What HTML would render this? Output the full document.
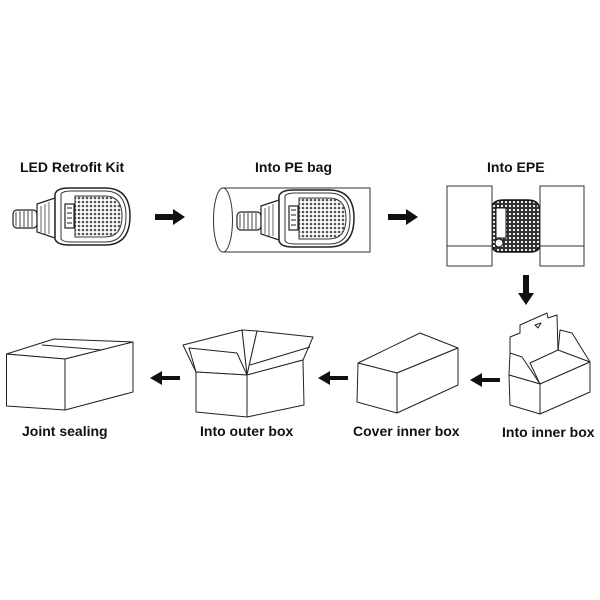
<!DOCTYPE html>
<html><head><meta charset="utf-8"><style>
html,body{margin:0;padding:0;background:#fff;}
svg{display:block;}
text{font-family:"Liberation Sans",sans-serif;font-weight:bold;font-size:14px;fill:#111;}
</style></head><body>
<svg width="600" height="600" viewBox="0 0 600 600" xmlns="http://www.w3.org/2000/svg">
<defs>
<pattern id="dots" width="4" height="4" patternUnits="userSpaceOnUse">
<rect width="4" height="4" fill="#fff"/><circle cx="2" cy="2" r="1.3" fill="#555"/>
</pattern>
<pattern id="dots2" width="4" height="4" patternUnits="userSpaceOnUse">
<rect width="4" height="4" fill="#333"/><rect x="1" y="1" width="2" height="2" fill="#eee"/>
</pattern>
<g id="lamp">
<rect x="0" y="22" width="24" height="18" rx="4" fill="#fff" stroke="#222" stroke-width="1.2"/>
<path d="M3 24v14M7 23v16M11 23v16M15 23v16M19 23v16" stroke="#444" stroke-width="1"/>
<path d="M24 16 L42 10 L42 50 L24 44 Z" fill="#fff" stroke="#222" stroke-width="1.2"/>
<path d="M28 18v26M32 16v30M36 14v32" stroke="#666" stroke-width="1"/>
<path d="M42 6 Q44 0 56 0 L92 0 Q117 0 117 28 Q117 57 92 57 L56 57 Q44 57 42 51 Z" fill="#fff" stroke="#222" stroke-width="1.5"/>
<path d="M48 6 Q50 3 58 3 L92 3 Q113 3 113 28 Q113 54 92 54 L58 54 Q50 54 48 51 Z" fill="none" stroke="#333" stroke-width="1"/>
<path d="M62 8 L92 8 Q109 8 109 28 Q109 49 92 49 L62 49 Z" fill="url(#dots)" stroke="#333"/>
<rect x="52" y="16" width="9" height="24" fill="#fff" stroke="#222" stroke-width="1.2"/>
<path d="M54 20h5M54 25h5M54 30h5M54 35h5" stroke="#222"/>
</g>
</defs>

<!-- labels -->
<text x="20" y="172">LED Retrofit Kit</text>
<text x="255" y="172">Into PE bag</text>
<text x="487" y="172">Into EPE</text>
<text x="22" y="436">Joint sealing</text>
<text x="200" y="436">Into outer box</text>
<text x="353" y="436">Cover inner box</text>
<text x="502" y="437">Into inner box</text>

<!-- lamp 1 -->
<use href="#lamp" x="13" y="188"/>

<!-- arrows -->
<g fill="#111">
<path d="M155 214h18v-5l12 8-12 8v-5h-18z"/>
<path d="M388 214h18v-5l12 8-12 8v-5h-18z"/>
<path d="M523 275h6v18h5l-8 12-8-12h5z"/>
<path d="M180 376h-18v-5l-12 7 12 7v-5h18z"/>
<path d="M348 376h-18v-5l-12 7 12 7v-5h18z"/>
<path d="M500 378h-18v-5l-12 7 12 7v-5h18z"/>
</g>

<!-- PE bag -->
<use href="#lamp" x="237" y="190"/>
<g fill="none" stroke="#333" stroke-width="1">
<path d="M223 188H370V252H223"/>
<ellipse cx="223" cy="220" rx="9.5" ry="32" fill="none"/>
</g>

<!-- EPE -->
<g>
<path d="M492 206 Q494 200 504 200 L528 200 Q540 200 540 212 L540 244 Q540 252 530 252 L500 252 Q492 252 492 244 Z" fill="url(#dots2)" stroke="#111" stroke-width="1.5"/>
<rect x="496" y="208" width="10" height="30" fill="#fff" stroke="#111"/>
<circle cx="499" cy="243" r="4" fill="#fff" stroke="#111"/>
</g>
<g fill="#fff" stroke="#333" stroke-width="1">
<rect x="447" y="186" width="45" height="80"/>
<rect x="540" y="186" width="44" height="80"/>
<path d="M447 246h45M540 246h44"/>
</g>

<!-- Joint sealing box -->
<g fill="#fff" stroke="#222" stroke-width="1" stroke-linejoin="round">
<path d="M6.5 354 L54 339 L133 342 L65 359 Z"/>
<path d="M6.5 354 L65 359 L65 410 L6.5 406 Z"/>
<path d="M65 359 L133 342 L133 392 L65 410 Z"/>
<path d="M42 345 L102 350" fill="none"/>
</g>

<!-- Outer box -->
<g fill="#fff" stroke="#222" stroke-width="1" stroke-linejoin="round">
<path d="M242 330 L257 331 L247 375 Z"/>
<path d="M183 345 L242 330 L247 375 L196 372 Z"/>
<path d="M257 331 L313 337 L303 360 L247 375 Z"/>
<path d="M189 348 L237 353 L247 375 L196 372 Z"/>
<path d="M196 372 L247 375 L247 417 L196 412 Z"/>
<path d="M247 375 L303 360 L304 405 L247 417 Z"/>
<path d="M250 365 L310 347" fill="none"/>
</g>

<!-- Cover inner box -->
<g fill="#fff" stroke="#222" stroke-width="1" stroke-linejoin="round">
<path d="M358 363 L420 333 L458 348 L397 373 Z"/>
<path d="M359 366 L397 376 L458 351" fill="none"/>
<path d="M358 363 L397 373 L397 413 L357 402 Z"/>
<path d="M397 373 L458 348 L458 385 L397 413 Z"/>
</g>

<!-- Inner box -->
<g fill="#fff" stroke="#222" stroke-width="1" stroke-linejoin="round">
<path d="M560 330 L572 333 L590 362 L558 352 Z"/>
<path d="M510 337 L520 333 L520 325 L547 313 L548 318 L557 315 L558 352 L540 384 L510 375 Z"/>
<path d="M535 325 l6 -2 l-3 5 z" fill="none"/>
<path d="M510 353 L522 357 L540 384 L509 375 Z"/>
<path d="M530 363 L558 350 L590 362 L540 384 Z"/>
<path d="M509 375 L540 384 L540 414 L510 405 Z"/>
<path d="M540 384 L590 362 L590 392 L540 414 Z"/>
</g>
</svg>
</body></html>
